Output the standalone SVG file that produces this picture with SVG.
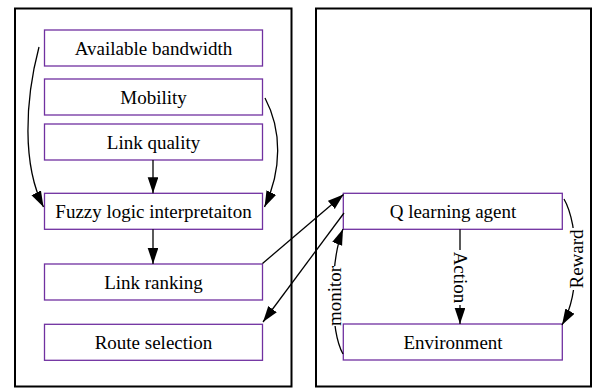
<svg xmlns="http://www.w3.org/2000/svg" width="594" height="388" viewBox="0 0 594 388">
<style>
.cluster{fill:none;stroke:#000;stroke-width:2}
.node rect{fill:#fff;stroke:#7030a0;stroke-width:1.3}
text{font-family:"Liberation Serif","Times New Roman",serif;font-size:19px;fill:#000}
.node text{text-anchor:middle}
.edge{fill:none;stroke:#000;stroke-width:1.3}
.lbl{text-anchor:middle}
.lblbg{fill:#fff}
</style>
<defs>
<marker id="ah" markerUnits="userSpaceOnUse" markerWidth="18" markerHeight="12" refX="16" refY="5.3" orient="auto">
<path d="M0,0 L16,5.3 L0,10.6 Z" fill="#000"/>
</marker>
</defs>
<rect width="594" height="388" fill="#fff"/>
<g id="cluster_left"><rect class="cluster" x="15" y="8.5" width="276.5" height="378"/></g>
<g id="cluster_right"><rect class="cluster" x="316" y="8.5" width="275" height="378"/></g>

<g id="bandwidth" class="node"><rect x="44.5" y="30" width="218" height="36"/><text x="153.5" y="54.5">Available bandwidth</text></g>
<g id="mobility" class="node"><rect x="44.5" y="79" width="218" height="36"/><text x="153.5" y="103.5">Mobility</text></g>
<g id="linkquality" class="node"><rect x="44.5" y="124" width="218" height="36"/><text x="153.5" y="148.5">Link quality</text></g>
<g id="fuzzy" class="node"><rect x="44.5" y="193.3" width="218" height="36"/><text x="153.5" y="217.8">Fuzzy logic interpretaiton</text></g>
<g id="linkranking" class="node"><rect x="44.5" y="264" width="218" height="36"/><text x="153.5" y="288.5">Link ranking</text></g>
<g id="routeselection" class="node"><rect x="44.5" y="324.3" width="218" height="36"/><text x="153.5" y="348.8">Route selection</text></g>
<g id="qagent" class="node"><rect x="343.3" y="193.3" width="219" height="36"/><text x="453" y="217.8">Q learning agent</text></g>
<g id="environment" class="node"><rect x="343.3" y="324" width="219" height="36"/><text x="453" y="348.5">Environment</text></g>

<g id="connectors">
<path class="edge" marker-end="url(#ah)" d="M39,47 C25,100 22,165 43.5,207"/>
<path class="edge" marker-end="url(#ah)" d="M265,98 C282,130 282,170 264.5,207"/>
<path class="edge" marker-end="url(#ah)" d="M153,160 L153,193.3"/>
<path class="edge" marker-end="url(#ah)" d="M153,229.3 L153,264"/>
<path class="edge" marker-end="url(#ah)" d="M262.5,263.5 L343.5,194.5"/>
<path class="edge" marker-end="url(#ah)" d="M344,213 L263,322"/>
<path class="edge" marker-end="url(#ah)" d="M460,229.3 L460,324"/>
<path class="edge" marker-end="url(#ah)" d="M564,199 C579,225 581,292 562,325"/>
<path class="edge" marker-end="url(#ah)" d="M343,354 C330,330 330,262 343,229"/>
<rect class="lblbg" x="452.5" y="250" width="16" height="55"/>
<rect class="lblbg" x="568.5" y="228" width="15.5" height="62"/>
<rect class="lblbg" x="327.5" y="266" width="14.5" height="60"/>
<text class="lbl" transform="translate(454,277.5) rotate(90)">Action</text>
<text class="lbl" transform="translate(583,259) rotate(-90)">Reward</text>
<text class="lbl" transform="translate(340.5,296) rotate(-90)">monitor</text>
</g>
</svg>
